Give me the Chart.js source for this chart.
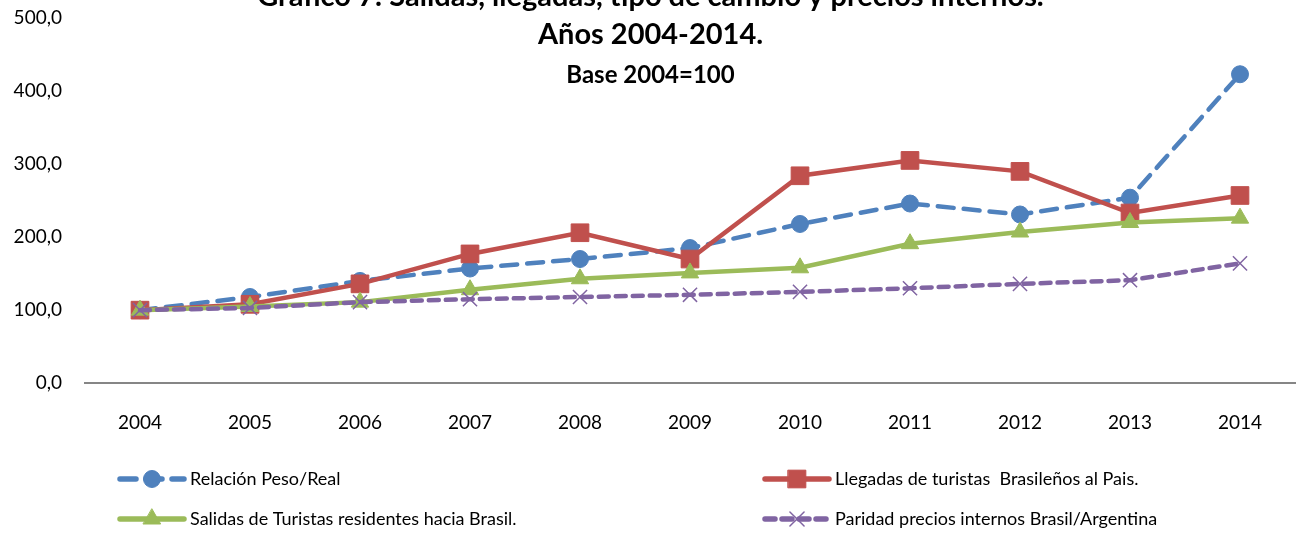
<!DOCTYPE html>
<html lang="es">
<head>
<meta charset="UTF-8">
<title>Gráfico 7</title>
<script src="https://cdn.jsdelivr.net/npm/chart.js"></script>
<style>
  html, body { margin: 0; padding: 0; background: #fff; }
  .wrap { position: relative; width: 1301px; height: 533px; overflow: hidden; }
</style>
</head>
<body>
<div class="wrap">
  <canvas id="grafico" width="1301" height="533"></canvas>
</div>
<script>
// datos (base 2004 = 100)
var anios = ['2004', '2005', '2006', '2007', '2008', '2009', '2010', '2011', '2012', '2013', '2014'];
var relacionPesoReal = [100, 118, 140, 157, 170, 185, 218, 246, 231, 254, 423];
var llegadasBrasilenos = [100, 108, 136, 177, 206, 170, 284, 305, 290, 233, 257];
var salidasResidentes = [100, 105, 111, 128, 143, 151, 158, 191, 207, 220, 226];
var paridadPrecios = [100, 103, 111, 115, 118, 121, 125, 130, 136, 141, 164];
var ticksY = [0, 100, 200, 300, 400, 500];

var titulos = [
    { texto: 'Gráfico 7: Salidas, llegadas, tipo de cambio y precios internos.', y: -3, fuente: 'bold 29px Lato' },
    { texto: 'Años 2004-2014.', y: 35, fuente: 'bold 29px Lato' },
    { texto: 'Base 2004=100', y: 75, fuente: 'bold 24px Lato' }
];

var fuente = 'Lato, "Open Sans", sans-serif';

// titulo dibujado encima del area del grafico (como en Excel)
const pluginTitulo = {
    id: 'titulo',
    afterDraw(chart) {
        const ctx = chart.ctx;
        ctx.save();
        ctx.fillStyle = '#000';
        ctx.textAlign = 'center';
        ctx.textBaseline = 'middle';
        titulos.forEach(function (t) {
            ctx.font = t.fuente;
            ctx.fillText(t.texto, chart.width / 2, t.y);
        });
        ctx.restore();
    }
};

// leyenda en dos columnas
const pluginLeyenda = {
    id: 'leyenda',
    afterDraw(chart) {
        const ctx = chart.ctx;
        const cols = [120, 765];
        const filas = [479, 519];
        chart.data.datasets.forEach(function (ds, i) {
            const x = cols[i % 2];
            const y = filas[Math.floor(i / 2)];
            ctx.save();
            ctx.strokeStyle = ds.borderColor;
            ctx.fillStyle = ds.backgroundColor;
            ctx.lineWidth = ds.borderWidth + 1;
            ctx.lineCap = 'round';
            ctx.setLineDash(ds.borderDash || []);
            ctx.beginPath();
            ctx.moveTo(x, y);
            ctx.lineTo(x + 64, y);
            ctx.stroke();
            ctx.setLineDash([]);
            ctx.lineWidth = ds.pointBorderWidth || 1;
            Chart.helpers.drawPoint(ctx, {
                pointStyle: ds.pointStyle,
                radius: ds.pointRadius,
                borderWidth: ds.pointBorderWidth || 1
            }, x + 32, y);
            ctx.fillStyle = '#000';
            ctx.font = '18px ' + fuente;
            ctx.textBaseline = 'middle';
            ctx.textAlign = 'left';
            ctx.fillText(ds.label, x + 70, y);
            ctx.restore();
        });
    }
};

const dados = {
    labels: anios,
    datasets: [
        {
            label: 'Relación Peso/Real',
            data: relacionPesoReal,
            borderColor: '#4F81BD',
            backgroundColor: '#4F81BD',
            borderWidth: 4.5,
            borderDash: [16, 10],
            pointStyle: 'circle',
            pointRadius: 8.5,
            pointBorderWidth: 1,
            order: 3
        },
        {
            label: 'Llegadas de turistas  Brasileños al Pais.',
            data: llegadasBrasilenos,
            borderColor: '#C0504D',
            backgroundColor: '#C0504D',
            borderWidth: 4.5,
            pointStyle: 'rect',
            pointRadius: 12.5,
            pointBorderWidth: 1,
            order: 2
        },
        {
            label: 'Salidas de Turistas residentes hacia Brasil.',
            data: salidasResidentes,
            borderColor: '#9BBB59',
            backgroundColor: '#9BBB59',
            borderWidth: 4.5,
            pointStyle: 'triangle',
            pointRadius: 10,
            pointBorderWidth: 1,
            order: 1
        },
        {
            label: 'Paridad precios internos Brasil/Argentina',
            data: paridadPrecios,
            borderColor: '#8064A2',
            backgroundColor: '#8064A2',
            borderWidth: 4.5,
            borderDash: [10, 7],
            pointStyle: 'crossRot',
            pointRadius: 10,
            pointBorderWidth: 1.5,
            order: 0
        }
    ]
};

const config = {
    type: 'line',
    data: dados,
    options: {
        responsive: false,
        animation: false,
        layout: { autoPadding: false, padding: { top: 18, right: 6, bottom: 71, left: 0 } },
        elements: { line: { tension: 0, borderCapStyle: 'round' } },
        plugins: {
            legend: { display: false },
            tooltip: { enabled: false },
            title: { display: false }
        },
        scales: {
            x: {
                offset: true,
                grid: { display: false, drawTicks: false },
                border: { display: true, color: '#868686', width: 2 },
                ticks: { color: '#000', font: { family: fuente, size: 19 }, padding: 28, maxRotation: 0 }
            },
            y: {
                min: 0,
                max: 500,
                afterFit: function (scale) {
                    scale.width = 85;
                    scale.paddingTop = 0;
                    scale.paddingBottom = 0;
                },
                afterBuildTicks: function (scale) {
                    scale.ticks = ticksY.map(function (v) { return { value: v }; });
                },
                grid: { display: false, drawTicks: false },
                border: { display: false },
                ticks: {
                    color: '#000',
                    padding: 23,
                    font: { family: fuente, size: 19 },
                    callback: function (v) { return v.toFixed(1).replace('.', ','); }
                }
            }
        }
    },
    plugins: [pluginTitulo, pluginLeyenda]
};

let myChart = new Chart(document.getElementById('grafico'), config);
</script>
</body>
</html>
